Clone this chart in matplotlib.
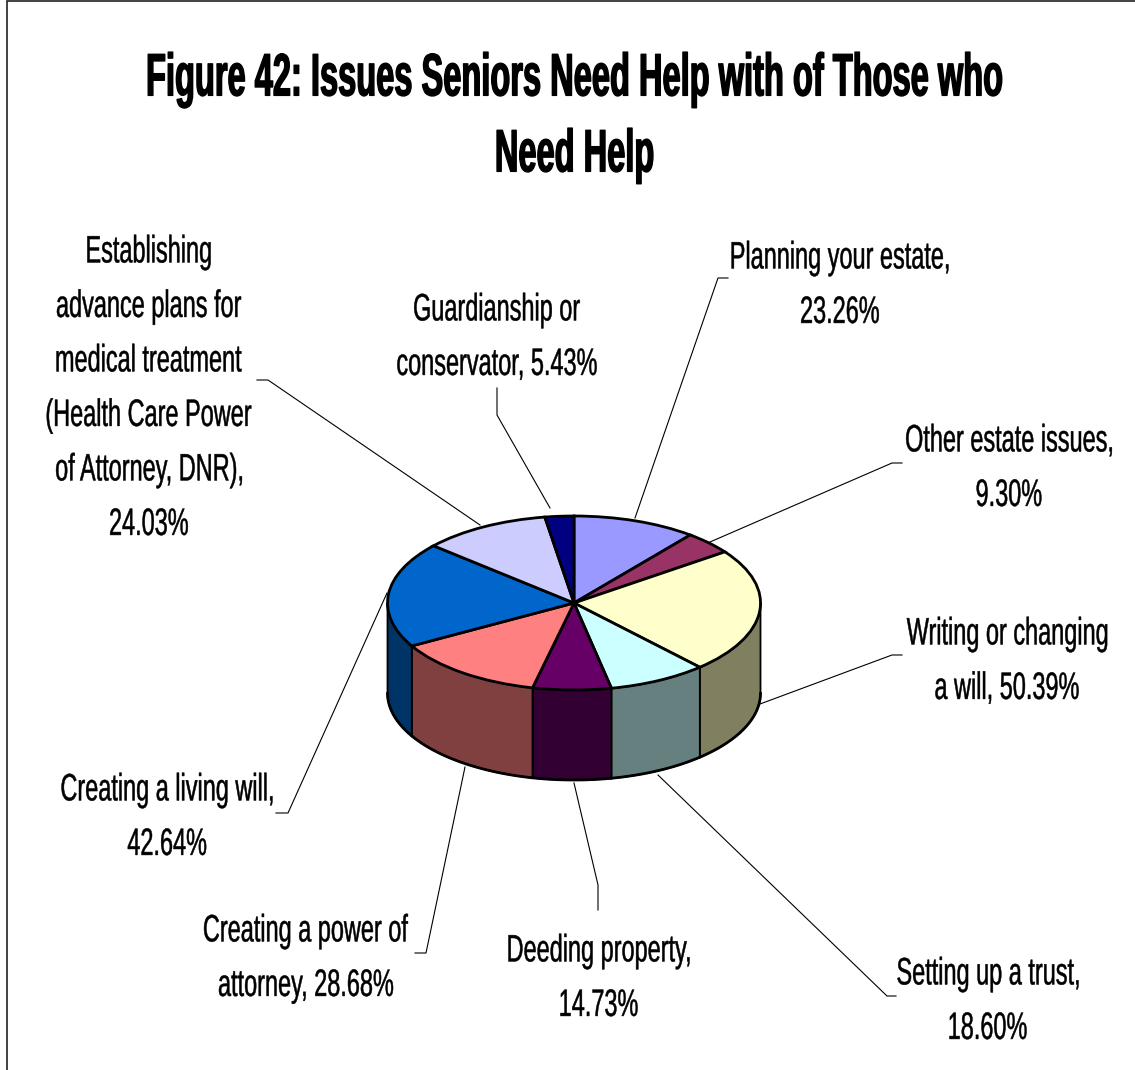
import numpy as np
import matplotlib
matplotlib.use('Agg')
import matplotlib.pyplot as plt
from matplotlib.patches import Polygon, Rectangle
from matplotlib.path import Path
from matplotlib.text import Text
from matplotlib.textpath import TextPath
from matplotlib.transforms import Affine2D, Bbox, IdentityTransform

title = 'Figure 42: Issues Seniors Need Help with of Those who\nNeed Help'
categories = ['Planning your estate,\n23.26%',
              'Other estate issues,\n9.30%',
              'Writing or changing\na will, 50.39%',
              'Setting up a trust,\n18.60%',
              'Deeding property,\n14.73%',
              'Creating a power of\nattorney, 28.68%',
              'Creating a living will,\n42.64%',
              'Establishing\nadvance plans for\nmedical treatment\n(Health Care Power\nof Attorney, DNR),\n24.03%',
              'Guardianship or\nconservator, 5.43%']
values = [23.26, 9.30, 50.39, 18.60, 14.73, 28.68, 42.64, 24.03, 5.43]
top_colors = ['#9999FF', '#993366', '#FFFFCC', '#CCFFFF', '#660066',
              '#FF8080', '#0066CC', '#CCCCFF', '#000080']
side_colors = ['#666699', '#662244', '#808060', '#668080', '#330033',
               '#804040', '#003366', '#666680', '#000040']

label_pos = [(840, 282), (1009, 465), (1007, 658), (988, 998), (599, 975),
             (306, 955), (167, 814), (149, 385), (497, 334)]
leaders = [[(635, 518), (718, 278), (728, 278)],
           [(710, 542), (892, 463), (902, 463)],
           [(760, 704), (892, 655), (902, 655)],
           [(658, 775), (887, 996), (896, 996)],
           [(574, 783), (598, 885), (598, 910)],
           [(465, 767), (426, 953), (415, 953)],
           [(387, 593), (288, 813), (276, 813)],
           [(480, 525), (268, 380), (257, 380)],
           [(550, 508), (497, 415), (497, 388)]]


class NarrowText(Text):
    # stays a normal Text artist, only the glyphs get squeezed sideways when drawn
    def __init__(self, x, y, text, squeeze=0.6, pitch=54, stroke=0.0, **kw):
        super().__init__(x, y, text, **kw)
        self.squeeze = squeeze
        self.pitch = pitch
        self.stroke = stroke

    def line_paths(self):
        dpi = self.get_figure().dpi
        fp = self.get_fontproperties()
        px, py = self.get_transform().transform(self.get_position())
        lines = self.get_text().split('\n')
        cap = 0.716 * fp.get_size_in_points() * dpi / 72
        out = []
        for n, line in enumerate(lines):
            tp = TextPath((0, 0), line, size=fp.get_size_in_points(), prop=fp)
            ext = tp.get_extents()
            base = py + ((len(lines) - 1) / 2 - n) * self.pitch - cap / 2
            k = dpi / 72
            tr = Affine2D().translate(-(ext.x0 + ext.x1) / 2, 0).scale(k * self.squeeze, k).translate(px, base)
            out.append(Path(tr.transform(tp.vertices), tp.codes))
        return out

    def get_window_extent(self, renderer=None, dpi=None):
        return Bbox.union([p.get_extents() for p in self.line_paths()])

    def draw(self, renderer):
        gc = renderer.new_gc()
        gc.set_linewidth(self.stroke)
        gc.set_foreground('black')
        for p in self.line_paths():
            renderer.draw_path(gc, p, IdentityTransform(), rgbFace=(0, 0, 0, 1))
        gc.restore()


plt.rcParams['font.family'] = ['Liberation Sans']

W, H = 1135, 1070
fig = plt.figure(figsize=(W / 100, H / 100), dpi=100)
ax = fig.add_axes([0, 0, 1, 1])
ax.set_xlim(0, W)
ax.set_ylim(H, 0)
ax.axis('off')

ax.add_patch(Rectangle((7, 1), W + 20, H + 20, fc='white', ec='#222222', lw=1.2))

cx, cy, rx, ry, depth = 574, 603, 186.5, 87, 90

# walls: slice angles run clockwise from 12 o'clock
edges = np.cumsum([0] + values) / sum(values) * 2 * np.pi
for i in range(len(values)):
    lo, hi = max(edges[i], np.pi / 2), min(edges[i + 1], 3 * np.pi / 2)
    if hi <= lo:
        continue
    t = np.linspace(lo, hi, 80)
    x = cx + rx * np.sin(t)
    y = cy - ry * np.cos(t)
    pts = np.r_[np.c_[x, y], np.c_[x, y + depth][::-1]]
    ax.add_patch(Polygon(pts, closed=True, fc=side_colors[i], ec='black', lw=1.3, zorder=2))
    ax.plot(x, y + depth, color='black', lw=2.0, zorder=2.5, solid_capstyle='round')

wedges, _ = ax.pie(values, colors=top_colors, startangle=90, counterclock=False,
                   wedgeprops=dict(edgecolor='black', linewidth=2.0))
flatten = Affine2D().scale(rx, -ry).translate(cx, cy) + ax.transData
for w in wedges:
    w.set_transform(flatten)
    w.set_zorder(3)
ax.set_xlim(0, W)
ax.set_ylim(H, 0)
ax.set_aspect('auto')

for pts in leaders:
    p = np.array(pts)
    ax.plot(p[:, 0], p[:, 1], color='black', lw=0.8, zorder=1)

for s, (x, y) in zip(categories, label_pos):
    ax.add_artist(NarrowText(x, y, s, squeeze=0.615, pitch=54.5, stroke=0.35, fontsize=27.5,
                             color='black', zorder=4))

ax.add_artist(NarrowText(575, 112, title, squeeze=0.546, pitch=76, stroke=1.0, fontsize=43,
                         fontweight='bold', color='black', zorder=4))

fig.savefig('out.png', dpi=100)
